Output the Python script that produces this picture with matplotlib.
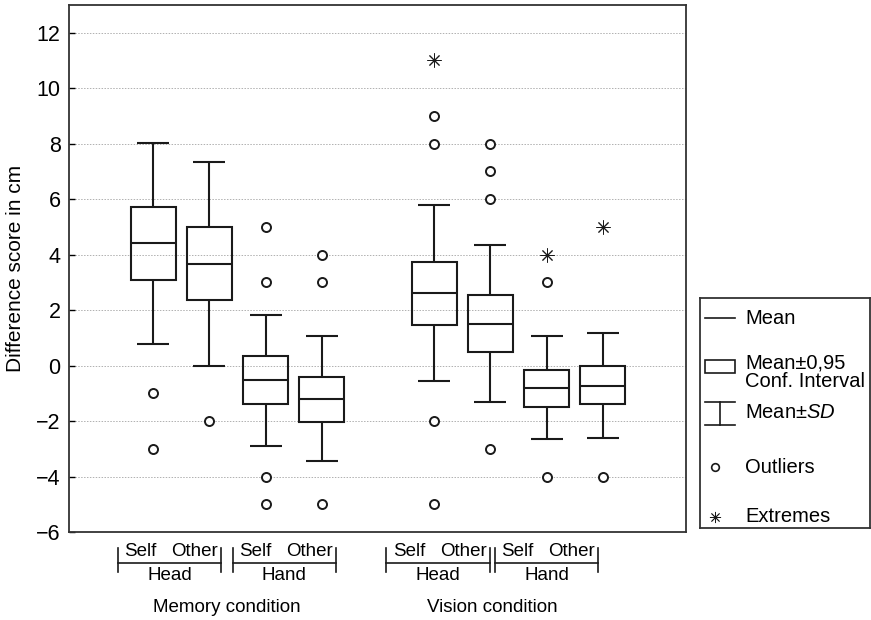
import matplotlib
matplotlib.use('Agg')
import matplotlib.pyplot as plt
import matplotlib.transforms as mtransforms
import numpy as np

plt.rcParams['font.family'] = ['Liberation Sans', 'DejaVu Sans']
plt.rcParams['mathtext.fontset'] = 'custom'
plt.rcParams['mathtext.rm'] = 'Liberation Sans'
plt.rcParams['mathtext.it'] = 'Liberation Sans:italic'

# data (difference score in cm)
positions = np.array([1, 2, 3, 4, 6, 7, 8, 9])
means = np.array([4.42, 3.67, -0.52, -1.22, 2.61, 1.51, -0.81, -0.72])
ci_low = np.array([3.10, 2.35, -1.37, -2.02, 1.47, 0.48, -1.48, -1.39])
ci_high = np.array([5.72, 4.99, 0.34, -0.40, 3.75, 2.54, -0.15, -0.02])
sd_low = np.array([0.78, 0.0, -2.89, -3.45, -0.57, -1.33, -2.65, -2.61])
sd_high = np.array([8.04, 7.34, 1.84, 1.05, 5.79, 4.35, 1.05, 1.17])
outliers = [[-1, -3], [-2], [5, 3, -4, -5], [4, 3, -5],
            [9, 8, -2, -5], [8, 7, 6, -3], [3, -4], [-4]]
extremes = [[], [], [], [], [11], [], [4], [5]]

owner_labels = ['Self', 'Other']
part_labels = ['Head', 'Hand', 'Head', 'Hand']
part_centers = [1.29, 3.33, 6.07, 8.0]
condition_labels = ['Memory condition', 'Vision condition']

fs_tick = 15.5
fs_lab = 15
fs_cat = 13.5
fs_leg = 14.5
lc = '#1a1a1a'
lw = 1.5

fig = plt.figure(figsize=(8.71, 6.2), dpi=100)
ax = fig.add_axes([69/871, 1-532/620, 617/871, 527/620])

box_w, cap_w = 0.8, 0.57
ax.bar(positions, ci_high-ci_low, bottom=ci_low, width=box_w,
       fill=False, edgecolor=lc, lw=lw, zorder=3)
ax.hlines(means, positions-box_w/2, positions+box_w/2, color=lc, lw=lw, zorder=3)
ax.vlines(positions, sd_low, ci_low, color=lc, lw=lw, zorder=3)
ax.vlines(positions, ci_high, sd_high, color=lc, lw=lw, zorder=3)
ax.hlines(sd_low, positions-cap_w/2, positions+cap_w/2, color=lc, lw=lw, zorder=3)
ax.hlines(sd_high, positions-cap_w/2, positions+cap_w/2, color=lc, lw=lw, zorder=3)
for p, outs, ext in zip(positions, outliers, extremes):
    if outs:
        ax.plot([p]*len(outs), outs, 'o', mfc='white', mec=lc, mew=1.4, ms=6.5, zorder=4)
    if ext:
        ax.plot([p]*len(ext), ext, marker=(8, 2, 0), ls='none', mec=lc, mew=0.7, ms=10, zorder=4)

ax.set_xlim(-0.5, 10.48)
ax.set_ylim(-6, 13)
ax.set_yticks(np.arange(-6, 13, 2))
ax.set_yticklabels([str(v).replace('-', '\u2212') for v in range(-6, 13, 2)])
ax.set_xticks([])
ax.tick_params(axis='y', direction='in', length=4, width=1, labelsize=fs_tick, pad=6)
ax.grid(axis='y', ls=(0, (1.5, 1.5)), color='#b0b0b0', lw=0.7, zorder=0)
for s in ax.spines.values():
    s.set_linewidth(1.3)
    s.set_color('#333333')
ax.set_ylabel('Difference score in cm', fontsize=fs_lab, labelpad=8)

# category brackets under the axis
trans = mtransforms.blended_transform_factory(ax.transData, ax.transAxes)
half = 0.92
for c, part in zip(part_centers, part_labels):
    ax.plot([c-half, c+half], [-0.0583, -0.0583], color=lc, lw=1.2,
            transform=trans, clip_on=False)
    for e in (c-half, c+half):
        ax.plot([e, e], [-0.030, -0.0759], color=lc, lw=1.2,
                transform=trans, clip_on=False)
    ax.text(c-0.52, -0.0374, owner_labels[0], transform=trans, ha='center',
            va='center', fontsize=fs_cat)
    ax.text(c+0.45, -0.0374, owner_labels[1], transform=trans, ha='center',
            va='center', fontsize=fs_cat)
    ax.text(c, -0.0816, part, transform=trans, ha='center', va='center', fontsize=fs_cat)
for i, cond in enumerate(condition_labels):
    cx = (part_centers[2*i]+part_centers[2*i+1])/2
    ax.text(cx, -0.1442, cond, transform=trans, ha='center', va='center', fontsize=fs_cat)

# legend drawn by hand
lg = fig.add_axes([700/871, 1-528/620, 170/871, 230/620])
lg.set_xlim(0, 1)
lg.set_ylim(0, 1)
lg.set_xticks([])
lg.set_yticks([])
for s in lg.spines.values():
    s.set_linewidth(1.3)
    s.set_color('#333333')
x0, x1, tx = 0.03, 0.206, 0.265
lg.plot([x0, x1], [0.913, 0.913], color=lc, lw=1.2)
lg.text(tx, 0.913, 'Mean', va='center', fontsize=fs_leg)
lg.add_patch(plt.Rectangle((x0, 0.674), x1-x0, 0.056, fill=False, ec=lc, lw=1.2))
lg.text(tx, 0.717, 'Mean\u00b10,95', va='center', fontsize=fs_leg)
lg.text(tx, 0.635, 'Conf. Interval', va='center', fontsize=fs_leg)
lg.plot([x0, x1], [0.548, 0.548], color=lc, lw=1.2)
lg.plot([x0, x1], [0.448, 0.448], color=lc, lw=1.2)
lg.plot([(x0+x1)/2]*2, [0.448, 0.548], color=lc, lw=1.2)
lg.text(tx, 0.5, 'Mean\u00b1$\\mathit{SD}$', va='center', fontsize=fs_leg)
lg.plot([0.088], [0.265], 'o', mfc='white', mec=lc, mew=1.2, ms=5.5)
lg.text(tx, 0.265, 'Outliers', va='center', fontsize=fs_leg)
lg.plot([0.088], [0.048], marker=(8, 2, 0), ls='none', mec=lc, mew=0.6, ms=8)
lg.text(tx, 0.048, 'Extremes', va='center', fontsize=fs_leg)

fig.savefig('out.png', dpi=100, facecolor='white')
